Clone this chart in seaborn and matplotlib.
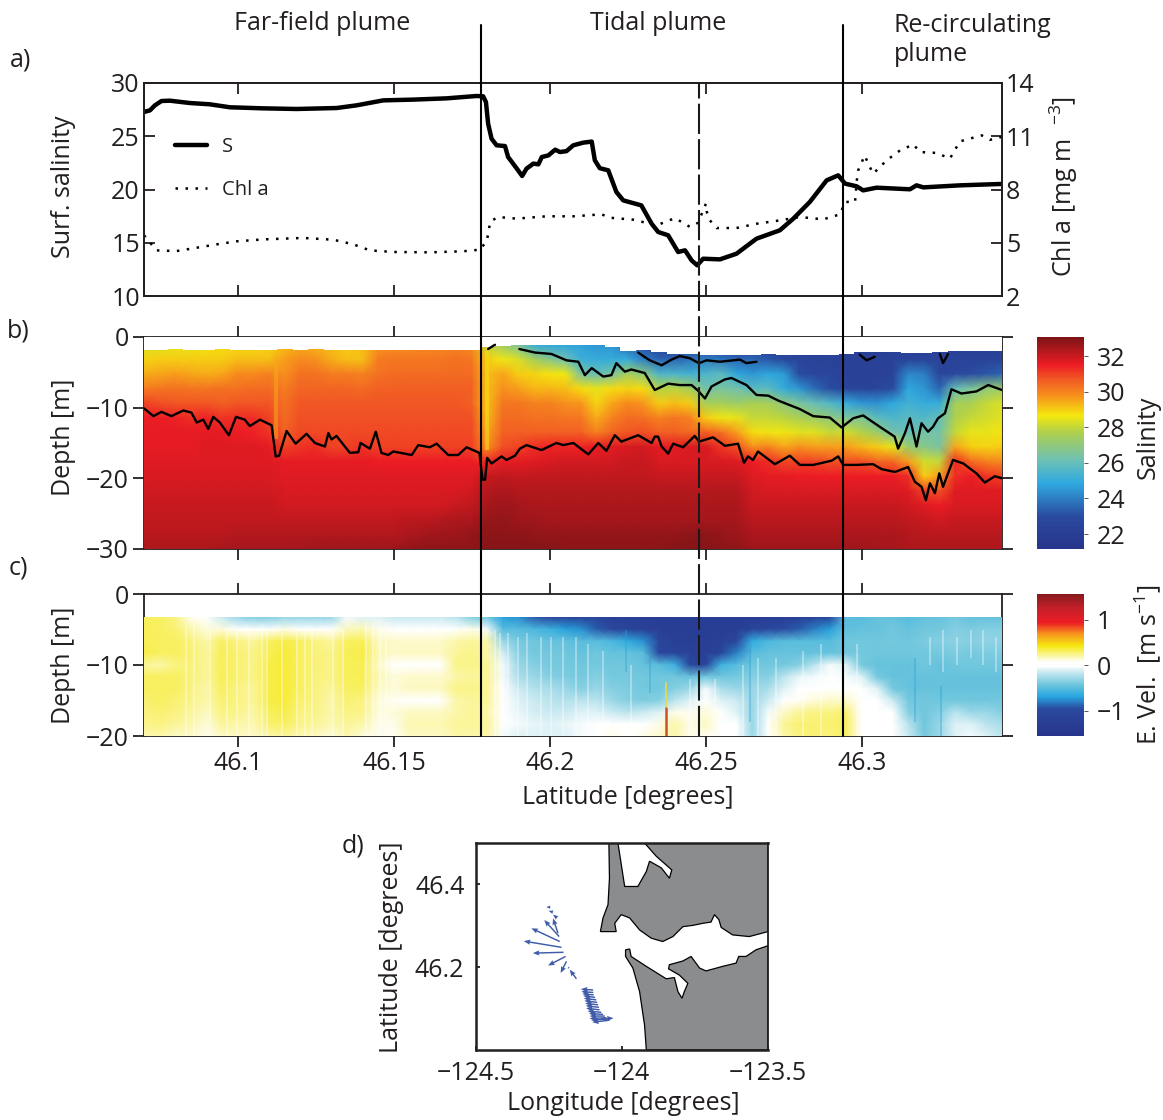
import numpy as np
import pandas as pd
import seaborn as sns
import matplotlib.pyplot as plt
from matplotlib.colors import LinearSegmentedColormap
from matplotlib.lines import Line2D

sns.set_style("ticks")
plt.rcParams['font.family'] = ['Open Sans', 'DejaVu Sans']
plt.rcParams['mathtext.default'] = 'regular'
plt.rcParams['axes.unicode_minus'] = True

TXT = '#231f20'
W, H = 1163, 1120

# panel a: surface salinity and chlorophyll along the transect
s_lat = [46.0699, 46.0718, 46.0734, 46.0755, 46.0782, 46.0846, 46.091, 46.0974, 46.1081, 46.1188, 46.1316, 46.138,
         46.1466, 46.1562, 46.1669, 46.1765, 46.1786, 46.1795, 46.1802, 46.1813, 46.1829, 46.1856, 46.1866, 46.1882,
         46.1898, 46.1911, 46.1925, 46.1947, 46.1963, 46.1974, 46.1995, 46.2017, 46.2032, 46.2053, 46.2075, 46.2107,
         46.2134, 46.2144, 46.216, 46.2187, 46.2213, 46.2235, 46.2293, 46.2326, 46.2347, 46.2379, 46.2411, 46.2433,
         46.2454, 46.2472, 46.2491, 46.2545, 46.2598, 46.2662, 46.2737, 46.278, 46.2833, 46.2887, 46.2924, 46.2946,
         46.2983, 46.3004, 46.3047, 46.3154, 46.3175, 46.3197, 46.3314, 46.3447]
s_val = [27.28, 27.43, 27.9, 28.31, 28.34, 28.12, 28.0, 27.72, 27.62, 27.56, 27.65, 27.9,
         28.37, 28.44, 28.56, 28.78, 28.75, 28.2, 26.18, 24.77, 24.15, 24.08, 23.05, 22.43,
         21.8, 21.27, 21.96, 22.43, 22.36, 23.05, 23.2, 23.74, 23.52, 23.6, 24.15, 24.4,
         24.5, 22.74, 22.0, 21.8, 19.77, 18.98, 18.51, 16.79, 16.01, 15.7, 14.13, 14.29,
         13.35, 12.88, 13.5, 13.44, 13.97, 15.38, 16.17, 17.26, 18.83, 20.86, 21.33, 20.55,
         20.3, 19.92, 20.17, 20.02, 20.39, 20.2, 20.39, 20.52]
chl_lat = [46.0699, 46.0739, 46.0803, 46.0868, 46.0932, 46.0996, 46.1081, 46.1209, 46.1306, 46.137, 46.1423, 46.1498,
           46.1615, 46.1722, 46.1776, 46.1799, 46.1802, 46.181, 46.1834, 46.1893, 46.1989, 46.2075, 46.2166, 46.2192,
           46.2267, 46.2342, 46.2401, 46.2449, 46.2475, 46.25, 46.2503, 46.2513, 46.2534, 46.2598, 46.2662, 46.2737,
           46.28, 46.2876, 46.293, 46.2946, 46.2978, 46.2983, 46.2988, 46.3009, 46.302, 46.3036, 46.3079, 46.3122,
           46.3165, 46.3186, 46.324, 46.3282, 46.3314, 46.3384, 46.3411, 46.3448]
chl_val = [5.42, 4.57, 4.53, 4.72, 4.91, 5.08, 5.19, 5.27, 5.17, 4.91, 4.57, 4.48,
           4.46, 4.52, 4.61, 5.14, 5.61, 6.21, 6.45, 6.36, 6.49, 6.49, 6.6, 6.41,
           6.3, 5.98, 6.39, 5.89, 6.13, 7.2, 6.73, 6.26, 5.83, 5.83, 6.07, 6.26,
           6.45, 6.32, 6.6, 7.3, 7.3, 8.42, 9.08, 9.92, 9.46, 8.89, 9.64, 10.2,
           10.54, 10.11, 10.06, 9.74, 10.71, 11.05, 10.8, 10.96]

# section boundaries
front_lats = [46.1779, 46.2939]
front_dash_lat = 46.2478

# panel b: isolines of salinity
iso_low_lat = [46.0699, 46.0729, 46.0755, 46.0787, 46.0825, 46.0851, 46.0868, 46.0889, 46.0905, 46.0921, 46.0942,
               46.0971, 46.0994, 46.1022, 46.1038, 46.1071, 46.1108, 46.1121, 46.1132, 46.1156, 46.1185, 46.122,
               46.1247, 46.1279, 46.129, 46.13, 46.1316, 46.1359, 46.1386, 46.1393, 46.1423, 46.1442, 46.146, 46.1482,
               46.1498, 46.1557, 46.1578, 46.1615, 46.1637, 46.1674, 46.1706, 46.1733, 46.1774, 46.1784, 46.1792,
               46.1799, 46.1813, 46.1845, 46.1861, 46.1888, 46.1904, 46.1925, 46.1973, 46.2021, 46.2043, 46.2075,
               46.2123, 46.2155, 46.2181, 46.2208, 46.2229, 46.2283, 46.2326, 46.2336, 46.2347, 46.2358, 46.2379,
               46.2395, 46.2427, 46.2464, 46.2478, 46.2523, 46.2561, 46.2603, 46.2622, 46.2635, 46.2651, 46.2667,
               46.2721, 46.2769, 46.2801, 46.2844, 46.2903, 46.2924, 46.294, 46.2983, 46.3036, 46.3063, 46.3106,
               46.3148, 46.317, 46.3191, 46.3205, 46.3218, 46.3234, 46.3248, 46.326, 46.3292, 46.3325, 46.3367,
               46.3394, 46.3426, 46.3449]
iso_low_dep = [-10.1, -11.2, -10.6, -11.2, -10.4, -10.7, -12.1, -11.7, -13.0, -11.3, -12.1,
               -13.9, -11.3, -11.7, -12.6, -11.7, -12.5, -16.9, -16.8, -13.3, -15.1, -13.7,
               -15.0, -15.5, -13.6, -14.5, -14.0, -16.4, -16.3, -15.0, -15.8, -13.4, -16.4, -16.7,
               -16.2, -16.7, -15.3, -15.6, -15.1, -16.7, -16.7, -15.6, -16.4, -20.2, -20.2,
               -17.1, -17.9, -16.9, -17.4, -16.8, -15.8, -15.3, -16.0, -15.0, -15.3, -15.0,
               -16.6, -15.0, -16.1, -13.9, -14.8, -13.9, -15.0, -14.1, -14.1, -15.5, -16.5,
               -15.1, -15.6, -14.0, -14.8, -14.2, -15.4, -15.1, -17.8, -16.9, -17.4, -16.2,
               -18.0, -16.8, -18.1, -18.1, -17.5, -16.9, -18.1, -18.1, -18.0, -18.7, -19.1,
               -18.4, -20.5, -21.2, -23.1, -20.7, -22.1, -19.3, -21.2, -17.4, -17.9, -19.3,
               -20.6, -19.7, -20.0]
iso_up_lat = [46.1902, 46.1952, 46.2005, 46.2053, 46.2091, 46.2112, 46.2134, 46.2171, 46.2197, 46.2213, 46.224,
              46.2261, 46.2304, 46.2336, 46.2379, 46.2416, 46.2454, 46.2475, 46.2497, 46.2518, 46.2561, 46.2582,
              46.263, 46.2662, 46.27, 46.2732, 46.2801, 46.2844, 46.2897, 46.2935, 46.2972, 46.3004, 46.3057,
              46.3105, 46.3116, 46.3138, 46.3154, 46.3175, 46.3191, 46.3212, 46.3228, 46.3244, 46.3266, 46.3287,
              46.3319, 46.3367, 46.3405, 46.3449]
iso_up_dep = [-1.7, -2.2, -2.4, -3.3, -3.5, -5.4, -4.4, -5.6, -5.4, -3.7, -4.9,
              -4.6, -5.1, -7.5, -6.6, -6.8, -6.8, -7.6, -8.7, -7.0, -6.0, -5.8,
              -6.8, -8.2, -8.3, -9.0, -10.2, -11.2, -11.4, -12.8, -11.5, -11.1, -12.7,
              -14.1, -15.8, -13.6, -11.5, -15.5, -12.2, -13.4, -12.7, -11.5, -10.8, -7.4,
              -8.0, -7.7, -6.8, -7.5]
iso_top_lat = [46.2283, 46.232, 46.2358, 46.239, 46.2416, 46.2448, 46.2478, 46.2502, 46.2545, 46.2609, 46.263, 46.2662]
iso_top_dep = [-2.2, -3.3, -4.0, -3.2, -2.7, -3.0, -3.7, -3.3, -3.5, -3.2, -3.7, -3.5]
iso_bit1_lat = [46.1802, 46.1824]
iso_bit1_dep = [-1.7, -1.1]
iso_bit2_lat = [46.2993, 46.3015, 46.3041]
iso_bit2_dep = [-2.5, -3.3, -2.8]
iso_bit3_lat = [46.325, 46.326, 46.3276]
iso_bit3_dep = [-2.4, -3.7, -2.4]

# gridded sections: one column per 0.005 degrees of latitude
grid_lat = [46.07, 46.075, 46.08, 46.085, 46.09, 46.095, 46.1, 46.105, 46.11, 46.115, 46.12, 46.125, 46.13, 46.135,
            46.14, 46.145, 46.15, 46.155, 46.16, 46.165, 46.17, 46.175, 46.18, 46.185, 46.19, 46.195, 46.2, 46.205,
            46.21, 46.215, 46.22, 46.225, 46.23, 46.235, 46.24, 46.245, 46.25, 46.255, 46.26, 46.265, 46.27, 46.275,
            46.28, 46.285, 46.29, 46.295, 46.3, 46.305, 46.31, 46.315, 46.32, 46.325, 46.33, 46.335, 46.34, 46.345]

# upper edge of the CTD data
sal_top = [-1.9, -1.8, -1.7, -1.8, -1.9, -1.7, -1.9, -1.9, -1.9, -1.7, -1.8, -1.7, -1.9, -1.9,
           -1.8, -1.9, -1.9, -1.8, -1.8, -1.9, -1.9, -1.9, -1.4, -1.3, -1.2, -1.2, -1.1, -1.2,
           -1.2, -1.2, -1.4, -2.0, -1.9, -2.1, -2.4, -2.4, -2.6, -2.5, -2.5, -2.5, -2.4, -2.5,
           -2.5, -2.5, -2.5, -2.4, -2.1, -2.1, -2.1, -2.2, -2.2, -2.1, -2.0, -2.0, -2.0, -2.0]

sal_depths = [-1.1, -3.2, -5.2, -7.3, -9.4, -11.4, -13.5, -15.5, -17.6, -19.7, -21.7, -23.8, -25.9, -27.9, -30.0]
sal_r01 = [28.3, 28.4, 28.5, 28.5, 28.7, 28.8, 28.8, 28.8, 28.9, 29.2, 29.4, 29.3, 29.2, 29.0, 29.2, 29.7, 29.8, 29.8, 29.9, 29.9, 30.0, 29.8,
           28.0, 27.3, 26.5, 25.0, 24.8, 24.8, 24.7, 24.5, 24.5, 23.5, 23.0, 22.0, 21.8, 21.8, 22.5, 22.3, 22.4, 22.3, 22.3, 22.2, 22.2, 22.2, 22.3, 22.2, 21.9, 22.0, 22.2, 22.2, 22.2, 22.1, 22.3, 22.3, 22.3, 22.3]
sal_r02 = [28.9, 29.0, 29.0, 29.0, 29.0, 29.0, 29.2, 29.2, 29.2, 29.6, 29.9, 29.8, 29.4, 29.2, 29.2, 30.1, 30.2, 30.2, 30.2, 30.2, 30.3, 30.2,
           29.0, 28.6, 28.3, 27.5, 26.8, 26.2, 25.2, 25.0, 25.0, 25.0, 24.0, 23.5, 23.5, 23.8, 24.0, 23.8, 23.5, 23.5, 23.2, 22.8, 22.6, 22.4, 22.4, 22.3, 22.2, 22.2, 22.3, 22.4, 22.4, 22.4, 22.4, 22.4, 22.4, 22.4]
sal_r03 = [29.4, 29.5, 29.6, 29.5, 29.4, 29.5, 29.9, 29.9, 30.0, 29.8, 30.3, 30.3, 30.1, 30.1, 30.0, 30.3, 30.4, 30.4, 30.4, 30.4, 30.4, 30.4,
           29.2, 29.5, 29.0, 28.9, 28.7, 28.6, 26.5, 26.0, 26.5, 27.5, 27.0, 25.5, 25.5, 25.3, 25.5, 25.8, 24.8, 24.5, 24.8, 24.6, 23.0, 22.6, 22.6, 22.4, 22.2, 22.3, 22.4, 24.2, 24.0, 22.6, 22.8, 23.0, 23.2, 23.5]
sal_r04 = [30.1, 30.2, 30.3, 30.2, 30.2, 30.3, 30.3, 30.4, 30.4, 30.1, 30.5, 30.5, 30.5, 30.5, 30.4, 30.6, 30.6, 30.6, 30.6, 30.6, 30.6, 30.6,
           29.2, 29.8, 29.6, 29.3, 29.3, 29.2, 28.8, 28.5, 28.8, 28.9, 28.8, 27.8, 27.9, 27.5, 26.3, 26.5, 26.3, 25.8, 25.8, 25.0, 24.5, 23.6, 23.0, 22.6, 22.4, 22.6, 23.0, 24.8, 24.5, 23.5, 26.0, 26.5, 27.0, 27.3]
sal_r05 = [31.0, 30.8, 30.7, 30.7, 30.7, 30.6, 30.7, 30.7, 30.7, 30.3, 30.7, 30.7, 30.7, 30.7, 30.7, 30.7, 30.7, 30.7, 30.7, 30.7, 30.7, 30.6,
           29.2, 30.2, 30.2, 30.0, 30.0, 29.8, 29.7, 28.9, 29.5, 29.9, 29.7, 29.0, 29.2, 29.0, 27.5, 27.5, 27.3, 27.6, 27.5, 27.0, 26.5, 26.0, 25.6, 25.0, 24.5, 24.4, 24.8, 25.3, 25.0, 25.0, 27.5, 27.6, 28.0, 28.3]
sal_r06 = [31.5, 31.5, 31.4, 31.3, 31.4, 31.2, 31.3, 31.3, 31.0, 30.4, 30.8, 30.8, 30.8, 30.8, 30.8, 30.8, 30.8, 30.8, 30.8, 30.8, 30.8, 30.8,
           29.3, 30.4, 30.4, 30.3, 30.3, 30.2, 30.2, 29.4, 30.0, 30.4, 30.3, 30.0, 30.2, 30.0, 29.0, 28.6, 28.5, 28.0, 28.0, 27.9, 27.6, 27.3, 27.0, 26.5, 26.6, 25.8, 25.5, 25.8, 25.6, 26.0, 27.7, 28.0, 28.2, 28.4]
sal_r07 = [31.6, 31.6, 31.6, 31.6, 31.6, 31.6, 31.5, 31.4, 31.2, 30.6, 30.9, 30.9, 30.9, 30.9, 30.9, 30.9, 30.9, 30.9, 30.9, 30.9, 30.9, 30.9,
           29.5, 30.6, 30.6, 30.6, 30.6, 30.6, 30.6, 30.0, 30.5, 30.7, 30.8, 30.6, 30.6, 30.4, 30.6, 30.3, 29.6, 28.8, 28.6, 28.6, 28.4, 28.4, 28.0, 28.2, 27.8, 27.3, 26.3, 26.0, 26.3, 26.3, 28.0, 28.5, 28.5, 28.7]
sal_r08 = [31.6, 31.6, 31.6, 31.6, 31.7, 31.7, 31.7, 31.7, 31.6, 31.0, 31.2, 31.3, 31.0, 31.0, 31.2, 31.0, 31.0, 31.0, 31.0, 31.0, 31.0, 31.0,
           29.8, 30.8, 31.0, 31.3, 31.4, 31.4, 31.4, 31.5, 31.7, 31.8, 31.9, 31.6, 31.6, 31.8, 31.8, 31.2, 30.8, 29.8, 30.0, 29.5, 29.8, 29.6, 29.6, 29.6, 29.3, 29.0, 28.5, 27.2, 26.8, 26.5, 29.5, 29.0, 28.9, 29.0]
sal_r09 = [31.7, 31.7, 31.7, 31.7, 31.7, 31.7, 31.7, 31.7, 31.7, 31.6, 31.6, 31.6, 31.6, 31.6, 31.6, 31.5, 31.5, 31.5, 31.5, 31.5, 31.5, 31.5,
           31.3, 31.6, 31.6, 31.7, 31.8, 31.9, 31.9, 31.9, 31.9, 32.0, 32.0, 31.8, 31.8, 31.8, 31.8, 31.8, 31.7, 31.5, 31.3, 30.9, 31.0, 31.0, 30.8, 30.8, 30.8, 30.5, 30.4, 29.6, 28.2, 28.0, 31.3, 30.4, 30.0, 29.9]
sal_r10 = [31.8, 31.8, 31.8, 31.8, 31.8, 31.8, 31.8, 31.8, 31.8, 31.7, 31.7, 31.7, 31.7, 31.7, 31.7, 31.7, 31.7, 31.7, 31.7, 31.7, 31.7, 31.7,
           32.0, 32.1, 32.0, 32.1, 32.1, 32.1, 32.1, 32.1, 32.1, 32.1, 32.1, 32.0, 32.0, 32.0, 32.0, 32.0, 32.0, 31.7, 31.6, 31.6, 31.5, 31.5, 31.5, 31.5, 31.5, 31.5, 31.5, 31.3, 29.0, 29.6, 31.3, 31.5, 31.2, 31.0]
sal_r11 = [31.9, 31.9, 31.9, 31.9, 31.9, 31.9, 31.9, 31.9, 31.9, 31.8, 31.8, 31.8, 31.8, 31.8, 31.8, 31.8, 31.8, 31.8, 31.8, 31.8, 31.8, 31.9,
           32.3, 32.4, 32.3, 32.3, 32.3, 32.3, 32.3, 32.3, 32.3, 32.3, 32.3, 32.3, 32.3, 32.3, 32.3, 32.3, 32.3, 31.9, 31.8, 31.8, 31.8, 31.8, 31.8, 31.8, 31.8, 31.8, 31.8, 31.7, 31.0, 30.8, 31.7, 31.7, 31.7, 31.7]
sal_r12 = [32.0, 32.0, 32.0, 32.0, 32.0, 32.0, 32.0, 32.0, 32.0, 31.9, 31.9, 31.9, 31.9, 31.9, 31.9, 31.9, 31.9, 31.9, 31.9, 31.9, 32.0, 32.1,
           32.5, 32.6, 32.5, 32.4, 32.4, 32.4, 32.4, 32.4, 32.4, 32.4, 32.4, 32.4, 32.4, 32.4, 32.4, 32.4, 32.4, 32.0, 32.0, 32.0, 32.0, 32.0, 32.0, 32.0, 32.0, 32.0, 32.0, 31.9, 31.7, 31.5, 31.8, 31.8, 31.8, 31.8]
sal_r13 = [32.1, 32.1, 32.1, 32.1, 32.1, 32.1, 32.1, 32.1, 32.1, 32.1, 32.1, 32.1, 32.1, 32.1, 32.1, 32.1, 32.1, 32.2, 32.2, 32.3, 32.4, 32.4,
           32.7, 32.7, 32.6, 32.6, 32.5, 32.5, 32.5, 32.5, 32.5, 32.5, 32.5, 32.5, 32.5, 32.5, 32.5, 32.5, 32.5, 32.2, 32.2, 32.2, 32.2, 32.2, 32.2, 32.2, 32.2, 32.2, 32.2, 32.1, 32.0, 31.9, 32.0, 32.0, 32.0, 32.0]
sal_r14 = [32.2, 32.2, 32.2, 32.2, 32.2, 32.2, 32.3, 32.3, 32.3, 32.3, 32.3, 32.3, 32.3, 32.3, 32.3, 32.3, 32.3, 32.4, 32.5, 32.6, 32.6, 32.7,
           32.8, 32.8, 32.8, 32.7, 32.7, 32.7, 32.7, 32.7, 32.7, 32.7, 32.7, 32.7, 32.7, 32.8, 32.8, 32.7, 32.6, 32.4, 32.4, 32.4, 32.4, 32.4, 32.4, 32.4, 32.4, 32.4, 32.4, 32.3, 32.2, 32.2, 32.2, 32.2, 32.2, 32.2]
sal_r15 = [32.4, 32.4, 32.4, 32.4, 32.4, 32.5, 32.5, 32.5, 32.5, 32.5, 32.5, 32.6, 32.6, 32.6, 32.6, 32.6, 32.6, 32.7, 32.8, 32.8, 32.8, 32.8,
           32.9, 32.9, 32.9, 32.9, 32.9, 32.8, 32.8, 32.8, 32.8, 32.8, 32.8, 32.8, 32.9, 32.9, 32.9, 32.8, 32.8, 32.6, 32.6, 32.6, 32.6, 32.6, 32.6, 32.6, 32.6, 32.5, 32.5, 32.4, 32.4, 32.4, 32.4, 32.4, 32.4, 32.4]

# thin fresher columns that the coarse grid cannot hold
sal_strip_lat = [46.1121, 46.1797]
sal_strip_top = [-3.0, -2.0]
sal_strip_bottom = [-14.5, -16.0]
sal_strip_color = ['#f9a61a', '#f6dc14']

vel_depths = [-3.3, -5.0, -6.6, -8.3, -10.0, -11.7, -13.3, -15.0, -16.7, -18.3, -20.0]
vel_r01 = [.3, .3, .25, .1, .05, -.15, -.3, -.35, -.35, -.3, -.3, -.3, -.3, -.05, -.1, -.1, -.15, -.15, -.15, -.15, -.2, -.35, -.4,
           -.7, -.75, -.9, -1, -1.05, -1.1, -1.1, -1.2, -1.2, -1.25, -1.25, -1.3, -1.3, -1.3, -1.3, -1.3, -1.3, -1.3, -1.25, -1.2, -1.1, -1.05, -.5, -.5, -.45, -.45, -.5, -.45, -.45, -.4, -.45, -.45, -.45]
vel_r02 = [.32, .3, .28, .2, .12, .12, .06, .04, .06, .1, .05, .05, .04, .16, .18, .1, .05, 0, 0, 0, .05, .1, -.05,
           -.5, -.5, -.55, -.6, -.7, -.75, -.9, -1.05, -1.1, -1.2, -1.25, -1.3, -1.3, -1.3, -1.3, -1.3, -1.1, -1, -.95, -.9, -.8, -.7, -.48, -.45, -.45, -.42, -.45, -.42, -.4, -.35, -.38, -.35, -.35]
vel_r03 = [.32, .3, .3, .27, .2, .3, .26, .22, .3, .34, .3, .26, .22, .3, .32, .16, .14, .15, .15, .15, .2, .22, .2,
           -.3, -.4, -.42, -.45, -.45, -.5, -.5, -.55, -.65, -.75, -1.05, -1.2, -1.25, -1.25, -1.2, -1.05, -.65, -.55, -.5, -.5, -.5, -.5, -.42, -.42, -.42, -.4, -.42, -.38, -.35, -.33, -.35, -.32, -.33]
vel_r04 = [.34, .3, .3, .28, .22, .32, .28, .24, .32, .36, .3, .27, .24, .32, .34, .18, .14, .16, .16, .16, .22, .24, .2,
           -.12, -.35, -.4, -.42, -.42, -.45, -.42, -.45, -.45, -.5, -1, -1.1, -1.2, -1.25, -1.1, -.8, -.5, -.45, -.45, -.45, -.45, -.45, -.42, -.4, -.42, -.42, -.42, -.42, -.4, -.38, -.4, -.38, -.38]
vel_r05 = [.22, .2, .26, .27, .22, .32, .28, .24, .34, .36, .3, .27, .24, .32, .32, .16, .06, .02, .02, .02, .24, .24, .22,
           -.05, -.3, -.35, -.4, -.4, -.42, -.4, -.42, -.42, -.45, -.5, -.6, -1.05, -1.1, -.6, -.5, -.42, -.42, -.4, -.35, -.2, -.05, -.1, -.4, -.45, -.45, -.45, -.42, -.45, -.42, -.42, -.42, -.42]
vel_r06 = [.3, .3, .3, .27, .22, .32, .28, .24, .34, .36, .3, .27, .24, .32, .32, .18, .12, .14, .14, .14, .2, .22, .22,
           -.05, -.25, -.3, -.35, -.38, -.4, -.35, -.4, -.4, -.42, -.42, -.42, -.45, -.42, -.42, -.4, -.35, -.35, -.2, -.08, -.05, 0, -.05, -.1, -.4, -.45, -.45, -.45, -.45, -.45, -.45, -.45, -.45]
vel_r07 = [.3, .3, .3, .26, .2, .3, .26, .22, .34, .36, .3, .26, .22, .3, .3, .16, .12, .16, .16, .16, .24, .24, .22,
           -.02, -.15, -.22, -.25, -.3, -.35, -.3, -.35, -.38, -.4, -.42, -.35, -.3, -.05, -.25, -.3, -.3, -.25, -.1, -.03, 0, .02, .03, -.02, -.1, -.4, -.45, -.45, -.45, -.45, -.45, -.45, -.45]
vel_r08 = [.28, .3, .28, .24, .2, .28, .26, .22, .34, .36, .28, .26, .2, .28, .26, .12, .08, .05, .05, .05, .2, .22, .22,
           0, -.1, -.15, -.2, -.22, -.2, -.2, -.3, -.35, -.38, -.35, -.2, -.1, .05, -.1, -.15, -.3, -.15, -.02, .08, .12, .14, .15, .05, .06, -.15, -.4, -.42, -.42, -.42, -.42, -.42, -.42]
vel_r09 = [.26, .28, .26, .22, .16, .26, .24, .2, .3, .34, .26, .24, .2, .26, .24, .12, .12, .16, .16, .16, .2, .22, .2,
           0, -.08, -.12, -.15, -.15, -.1, -.1, -.15, -.2, -.15, -.1, .1, .08, .12, .02, -.1, -.3, -.05, .14, .22, .26, .26, .28, .06, .06, .02, -.35, -.42, -.35, -.2, -.3, -.3, -.35]
vel_r10 = [.24, .26, .22, .2, .12, .22, .2, .18, .28, .3, .24, .22, .18, .22, .2, .1, .1, .18, .18, .18, .22, .22, .22,
           0, -.05, -.08, -.1, -.08, -.05, 0, .05, .02, .05, .1, .2, .1, .16, .05, 0, -.3, .02, .22, .28, .28, .28, .3, .05, .05, .02, -.2, -.42, -.3, -.1, -.1, -.2, -.25]
vel_r11 = [.18, .2, .16, .14, .1, .16, .16, .14, .2, .22, .18, .16, .12, .2, .12, .1, .08, .16, .16, .16, .2, .2, .2,
           -.05, -.1, -.1, -.1, -.1, -.05, 0, .1, .05, .1, .15, .2, .1, .1, .05, 0, -.3, .05, .2, .25, .28, .25, .3, .02, .02, .02, -.15, -.4, -.3, -.1, -.05, -.1, -.2]

# profile-to-profile streaks in the ADCP data, narrower than a grid column
pale_lat = [46.0835, 46.0859, 46.091, 46.0964, 46.0998, 46.1034, 46.1076, 46.1092, 46.114, 46.1188, 46.1215, 46.1239,
            46.1306, 46.1338, 46.1412, 46.1434, 46.1457, 46.1476, 46.1824, 46.184, 46.1866, 46.1898, 46.1925, 46.1973,
            46.2005, 46.2043, 46.2085, 46.2123, 46.2171, 46.2261, 46.2448, 46.2529, 46.262, 46.2667, 46.2726, 46.2812,
            46.287, 46.2983, 46.3218, 46.326, 46.3305, 46.3351, 46.3389, 46.3431]
pale_top = [-4.5, -4.5, -5, -5, -5.5, -5.5, -5.5, -5.5, -5.5, -5.5, -5.5, -5.5,
            -5, -5, -4, -4, -4, -4, -5, -5.5, -5.5, -6, -5.5, -6,
            -6, -6, -6, -7, -8, -10, -12, -12, -10, -9, -9, -8,
            -7, -7, -6, -5, -6, -5, -5, -6]
pale_bottom = [-20, -20, -20, -20, -20, -20, -20, -20, -20, -20, -20, -20,
               -20, -20, -20, -20, -20, -20, -20, -20, -20, -20, -20, -20,
               -20, -20, -20, -20, -20, -20, -20, -20, -20, -20, -20, -20,
               -20, -20, -10, -11, -10, -9, -10, -11]
blue_lat = [46.2245, 46.232, 46.2641, 46.3255, 46.317]
blue_top = [-5, -8, -6, -13, -9]
blue_bottom = [-11, -14, -18, -20, -18]

# narrow eastward jet near the bottom
jet_lat = 46.2371
jet_yel_dep = [-12.5, -16.0]
jet_red_dep = [-16.0, -20.0]

# panel d: coast, bay and velocity arrows
north_lon = [-124.044, -124.042, -124.047, -124.064, -124.073, -124.019, -124.024, -124.002, -123.973, -123.939, -123.899,
             -123.86, -123.825, -123.791, -123.757, -123.723, -123.695, -123.683, -123.668, -123.66, -123.621, -123.564,
             -123.5, -123.5]
north_lat = [46.5, 46.415, 46.351, 46.319, 46.286, 46.286, 46.306, 46.327, 46.319, 46.29, 46.27,
             46.262, 46.274, 46.298, 46.301, 46.306, 46.309, 46.327, 46.315, 46.296, 46.278, 46.274,
             46.286, 46.5]
south_lon = [-123.987, -123.973, -123.968, -123.916, -123.848, -123.82, -123.808, -123.794, -123.786, -123.774, -123.803,
             -123.84, -123.837, -123.791, -123.763, -123.734, -123.712, -123.655, -123.609, -123.6, -123.575, -123.541,
             -123.5, -123.5, -123.916, -123.922, -123.939, -123.962, -123.987]
south_lat = [46.242, 46.244, 46.226, 46.202, 46.172, 46.175, 46.141, 46.125, 46.141, 46.161, 46.181,
             46.196, 46.206, 46.215, 46.226, 46.198, 46.191, 46.202, 46.21, 46.226, 46.226, 46.242,
             46.252, 46.0, 46.0, 46.06, 46.141, 46.198, 46.226]
bay_lon = [-124.013, -123.99, -123.945, -123.916, -123.905, -123.865, -123.837, -123.829, -123.882, -123.922]
bay_lat = [46.5, 46.395, 46.395, 46.431, 46.456, 46.44, 46.415, 46.435, 46.468, 46.5]

arrow_lon = [-124.244, -124.235, -124.221, -124.214, -124.218, -124.212, -124.206, -124.199, -124.192, -124.189, -124.18,
             -124.155, -124.098, -124.097, -124.096, -124.091, -124.087, -124.084, -124.081, -124.078, -124.076, -124.07,
             -124.064, -124.058, -124.053, -124.047, -124.042, -124.07]
arrow_lat = [46.345, 46.333, 46.319, 46.274, 46.282, 46.262, 46.248, 46.236, 46.226, 46.214, 46.2,
             46.172, 46.145, 46.139, 46.133, 46.127, 46.121, 46.115, 46.109, 46.103, 46.097, 46.091,
             46.086, 46.082, 46.078, 46.075, 46.072, 46.075]
arrow_u = [-.014, -.015, -.014, -.051, -.017, -.097, -.129, -.105, -.06, -.02, -.005,
           -.023, -.042, -.041, -.039, -.041, -.043, -.044, -.044, -.045, -.046, -.047,
           -.048, -.052, -.057, -.058, -.059, .042]
arrow_v = [0, .003, .008, .04, .036, .032, .015, -.002, -.022, -.028, -.004,
           .022, .002, .002, .003, .004, .004, .004, .004, .004, .004, .003,
           .002, 0, -.002, -.003, -.005, .002]

sal_cmap = LinearSegmentedColormap.from_list('sal', [
    (0.0, '#27348b'), (0.15, '#2a4a9f'), (0.31, '#2fa9e0'), (0.42, '#6ec1b4'), (0.55, '#aed04c'),
    (0.63, '#f5e80f'), (0.72, '#f7941d'), (0.80, '#f15a24'), (0.87, '#ed1c24'), (1.0, '#7c1416')])
vel_cmap = LinearSegmentedColormap.from_list('vel', [
    (0.0, '#27348b'), (0.19, '#2a4a9f'), (0.28, '#29a8e0'), (0.36, '#6cc5dc'), (0.46, '#d4eef4'), (0.49, '#ffffff'),
    (0.52, '#ffffff'), (0.635, '#f5e80f'), (0.72, '#f7941d'), (0.80, '#ed1c24'), (0.90, '#c5202a'), (1.0, '#86191c')])

sal_table = [sal_r01, sal_r02, sal_r03, sal_r04, sal_r05, sal_r06, sal_r07, sal_r08, sal_r09, sal_r10, sal_r11,
             sal_r12, sal_r13, sal_r14, sal_r15]
vel_table = [vel_r01, vel_r02, vel_r03, vel_r04, vel_r05, vel_r06, vel_r07, vel_r08, vel_r09, vel_r10, vel_r11]
assert all(len(r) == len(grid_lat) for r in sal_table + vel_table), [len(r) for r in sal_table + vel_table]

fig = plt.figure(figsize=(W / 100, H / 100), dpi=100)


def rect(left, top, right, bottom):
    return [left / W, 1 - bottom / H, (right - left) / W, (bottom - top) / H]


def style_axis(ax, direction, length):
    ax.tick_params(direction=direction, length=length, width=1.3, top=True, right=True, labelsize=18,
                   color=TXT, labelcolor=TXT, pad=3)
    for sp in ax.spines.values():
        sp.set_visible(True)
        sp.set_linewidth(1.3)
        sp.set_color(TXT)


lat_min, lat_max = 46.0699, 46.3449
lat_ticks = [46.1, 46.15, 46.2, 46.25, 46.3]
lat_labels = ['46.1', '46.15', '46.2', '46.25', '46.3']

# panel a
ax_a = fig.add_axes(rect(144, 83, 1002, 296))
sns.lineplot(x=s_lat, y=s_val, estimator=None, sort=False, color='black', lw=3.2, ax=ax_a, label='S')
ax_a.set_xlim(lat_min, lat_max)
ax_a.set_ylim(10, 30)
ax_a.set_yticks([10, 15, 20, 25, 30])
ax_a.set_xticks(lat_ticks)
ax_a.set_xticklabels([])
style_axis(ax_a, 'in', 8)
ax_a.tick_params(right=False)
ax_r = ax_a.twinx()
sns.lineplot(x=chl_lat, y=chl_val, estimator=None, sort=False, color='black', lw=1.8,
             linestyle=(0, (1, 3)), ax=ax_r, legend=False)
ax_r.set_ylim(2, 14)
ax_r.set_yticks([2, 5, 8, 11, 14])
style_axis(ax_r, 'in', 8)
ax_r.tick_params(left=False, top=False)
ax_r.set_ylabel('')
ax_a.legend(handles=[Line2D([], [], color='black', lw=3.2, label='S'),
                     Line2D([], [], color='black', lw=1.8, ls=(0, (1, 3)), label='Chl a')],
            loc='upper left', bbox_to_anchor=(0.036, 0.746), frameon=False, fontsize=14.5, handlelength=1.6,
            labelspacing=1.15, handletextpad=0.75, borderpad=0, borderaxespad=0, labelcolor=TXT)


def section(top, bottom, heat_top, table, depths, cmap, vmin, vmax, ticks, cbar_rect, yticks, ymin):
    # real axes hold ticks and spines, the heatmap sits over them, lines go on a clear axes on top
    ax = fig.add_axes(rect(144, top, 1002, bottom), zorder=1)
    ax.set_xlim(lat_min, lat_max)
    ax.set_ylim(ymin, 0)
    ax.set_xticks(lat_ticks)
    ax.set_yticks(yticks)
    ax.set_xticklabels([])
    style_axis(ax, 'out', 8)
    heat = fig.add_axes(rect(144, heat_top, 1002, bottom), zorder=2)
    cax = fig.add_axes(rect(cbar_rect[0], top, cbar_rect[1], bottom))
    df = pd.DataFrame(table, index=depths, columns=grid_lat)
    sns.heatmap(df, ax=heat, cmap=cmap, vmin=vmin, vmax=vmax, cbar_ax=cax, cbar_kws={'ticks': ticks},
                xticklabels=False, yticklabels=False, shading='gouraud')
    heat.set_xlim(0, df.shape[1] - 1)
    heat.set_ylim(df.shape[0] - 1, 0)
    heat.axis('off')
    cax.tick_params(length=3, width=0.7, labelsize=18, color='#555555', labelcolor=TXT, pad=6)
    over = fig.add_axes(rect(144, top, 1002, bottom), zorder=3)
    over.patch.set_visible(False)
    over.axis('off')
    over.set_xlim(lat_min, lat_max)
    over.set_ylim(ymin, 0)
    return ax, over, cax


# panel b
ax_b, over_b, cax_b = section(337, 549, 344.8, sal_table, sal_depths, sal_cmap, 21.16, 33.07,
                              [22, 24, 26, 28, 30, 32], (1037, 1084), [0, -10, -20, -30], -30)
over_b.fill_between(grid_lat, 0, sal_top, step='mid', color='white', lw=0)
over_b.vlines(sal_strip_lat, sal_strip_bottom, sal_strip_top, colors=sal_strip_color, lw=3, alpha=0.55)
for xs, ys in [(iso_low_lat, iso_low_dep), (iso_up_lat, iso_up_dep), (iso_top_lat, iso_top_dep),
               (iso_bit1_lat, iso_bit1_dep), (iso_bit2_lat, iso_bit2_dep), (iso_bit3_lat, iso_bit3_dep)]:
    sns.lineplot(x=xs, y=ys, estimator=None, sort=False, color='black', lw=1.7, ax=over_b, legend=False)
over_b.set_xlim(lat_min, lat_max)
over_b.set_ylim(-30, 0)
over_b.axis('off')

# panel c
ax_c, over_c, cax_c = section(594, 736, 617.4, vel_table, vel_depths, vel_cmap, -1.56, 1.57,
                              [-1, 0, 1], (1037, 1084), [0, -10, -20], -20)
ax_c.set_xticklabels(lat_labels)
over_c.vlines(pale_lat, pale_bottom, pale_top, colors='white', lw=1.3, alpha=0.38)
over_c.vlines(blue_lat, blue_bottom, blue_top, colors='#2a9fd8', lw=1.3, alpha=0.4)
over_c.plot([jet_lat, jet_lat], jet_yel_dep, color='#e8d84a', lw=1.3)
over_c.plot([jet_lat, jet_lat], jet_red_dep, color='#d0502a', lw=1.8)

# section boundaries cross all three panels, drawn from panel c with clipping off
over_c.set_zorder(6)
for lat in front_lats:
    over_c.plot([lat, lat], [-20, 80.1], color='black', lw=1.5, clip_on=False)
over_c.plot([front_dash_lat, front_dash_lat], [-20, 72], color='#1a1a1a', lw=1.5, clip_on=False,
            linestyle=(0, (14.5, 2.5)))
over_c.set_ylim(-20, 0)

# panel d
ax_d = fig.add_axes(rect(475.5, 843, 768, 1050))
ax_d.fill(north_lon, north_lat, facecolor='#8a8c8e', edgecolor='black', lw=0.9)
ax_d.fill(south_lon, south_lat, facecolor='#8a8c8e', edgecolor='black', lw=0.9)
ax_d.fill(bay_lon, bay_lat, facecolor='white', edgecolor='black', lw=0.9)
ax_d.quiver(arrow_lon, arrow_lat, arrow_u, arrow_v, angles='xy', scale_units='xy', scale=1, color='#3f5ba9',
            width=0.005, headwidth=3.6, headlength=4.5, headaxislength=4, zorder=3)
ax_d.set_xlim(-124.5, -123.5)
ax_d.set_ylim(46.0, 46.5)
ax_d.set_xticks([-124.5, -124, -123.5])
ax_d.set_xticklabels(['\u2212124.5', '\u2212124', '\u2212123.5'])
ax_d.set_yticks([46.2, 46.4])
ax_d.set_yticklabels(['46.2', '46.4'])
style_axis(ax_d, 'in', 3)
ax_d.tick_params(top=False, right=False, pad=8)
for name in ('left', 'bottom', 'top'):
    ax_d.spines[name].set_linewidth(1.8)


def label(x, y, s, **kw):
    kw.setdefault('ha', 'center')
    kw.setdefault('va', 'center')
    kw.setdefault('fontsize', 18)
    fig.text(x / W, 1 - y / H, s, color=TXT, **kw)


label(322, 24, 'Far-field plume')
label(658, 24, 'Tidal plume')
label(894, 40, 'Re-circulating\nplume', ha='left', linespacing=1.25)
label(21, 60, 'a)')
label(18, 331, 'b)')
label(18, 568, 'c)')
label(353, 846, 'd)')
label(64, 187, 'Surf. salinity', rotation=90)
label(64, 437, 'Depth [m]', rotation=90)
label(64, 665, 'Depth [m]', rotation=90)
label(1064, 187, 'Chl a [mg m  $^{-3}$]', rotation=90)
label(1148, 437, 'Salinity', rotation=90)
label(1148, 665, 'E. Vel.  [m s$^{-1}$]', rotation=90)
label(628, 797, 'Latitude [degrees]')
label(623, 1104, 'Longitude [degrees]')
label(391, 947, 'Latitude [degrees]', rotation=90)

plt.savefig('out.png', dpi=100)
